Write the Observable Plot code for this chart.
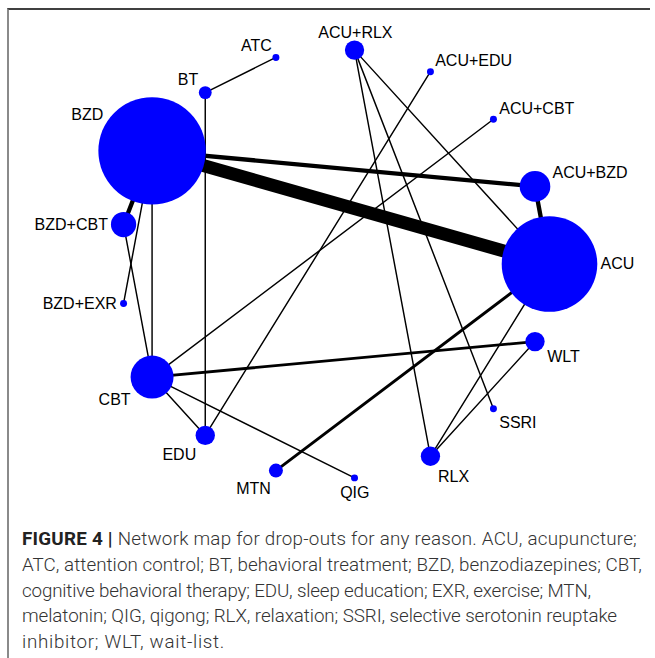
<!DOCTYPE html>
<html><head><meta charset="utf-8">
<script src="https://cdn.jsdelivr.net/npm/d3@7"></script>
<script src="https://cdn.jsdelivr.net/npm/@observablehq/plot@0.6"></script>
<style>
body{margin:0;background:#fff;}
#wrap{position:relative;width:655px;height:658px;overflow:hidden;background:#fff;}
#chart{position:absolute;left:0;top:0;}
#frame{position:absolute;left:7px;top:8px;width:643px;height:700px;border-top:2px solid #404040;border-left:2px solid #8a8a8a;box-sizing:border-box;pointer-events:none;}
#caption{position:absolute;left:22px;top:527px;font-family:Roboto,'Liberation Sans',sans-serif;font-weight:300;font-size:18.8px;line-height:25.8px;color:#333;white-space:nowrap;}
#caption b{font-weight:700;color:#222;}
#caption .ln{display:block;}
#caption .ln span{display:inline;}
</style></head>
<body>
<div id="wrap">
<div id="chart"></div>
<div id="frame"></div>
<div id="caption"></div>
</div>
<script>
// Treatments (alphabetical, as laid out counter-clockwise on the circle)
const treatments = ["ACU","ACU+BZD","ACU+CBT","ACU+EDU","ACU+RLX","ATC","BT","BZD","BZD+CBT","BZD+EXR","CBT","EDU","MTN","QIG","RLX","SSRI","WLT"];
// Relative node size (0-10)
const nodeSize = [8.9, 2.85, 0.65, 0.65, 1.8, 0.65, 1.2, 10, 2.35, 0.65, 4.0, 1.8, 1.3, 0.65, 1.8, 0.65, 1.8];
// Direct comparisons and number of studies
const edgeFrom = ["ACU","ACU","ACU","ACU","ACU","BZD","BZD","BZD","BZD","BZD+CBT","ATC","BT","ACU+CBT","CBT","CBT","CBT","ACU+EDU","ACU+RLX","ACU+RLX","RLX"];
const edgeTo   = ["BZD","ACU+BZD","ACU+RLX","MTN","RLX","ACU+BZD","BZD+CBT","BZD+EXR","CBT","CBT","BT","EDU","CBT","WLT","EDU","QIG","EDU","RLX","SSRI","WLT"];
const edgeStudies = [9,3,1,2,1,3,3,1,1,1,1,1,1,2,1,1,1,1,1,1];
// Caption
const captionLabel = "FIGURE 4 |";
const captionLines = [
  " Network map for drop-outs for any reason. ACU, acupuncture;",
  "ATC, attention control; BT, behavioral treatment; BZD, benzodiazepines; CBT,",
  "cognitive behavioral therapy; EDU, sleep education; EXR, exercise; MTN,",
  "melatonin; QIG, qigong; RLX, relaxation; SSRI, selective serotonin reuptake",
  "inhibitor; WLT, wait-list."
];
const captionLineWidths = [615, 620, 569, 595, 203];

const R = 214.8, CX = 334.2, CY = 263.5;
const n = treatments.length;
const rOpts = {type:"linear", domain:[0,10], range:[0,53.7]};
const rScale = Plot.scale({r: rOpts});
const nodes = treatments.map((t,i)=>{
  const a = 2*Math.PI*i/n;
  return {name:t, size:nodeSize[i], cos:Math.cos(a), sin:Math.sin(a)};
});
nodes.forEach(d=>{
  const rp = rScale.apply(d.size);
  d.anchor = d.cos > 0.1 ? "start" : d.cos < -0.1 ? "end" : "middle";
  const gx = d.anchor==="start" ? 3.2 : d.anchor==="end" ? -3.2 : 0;
  d.lx = d.cos + (d.cos*rp + gx)/R;
  const gy = d.sin > 0.2 ? 8 : d.sin < -0.2 ? -11.8 : null;
  d.ly = gy===null ? d.sin : d.sin + (d.sin*rp + gy)/R;
});
const byName = new Map(nodes.map(d=>[d.name,d]));
const edges = edgeFrom.map((f,i)=>({a:byName.get(f), b:byName.get(edgeTo[i]), k:edgeStudies[i]}));

const font = "'Liberation Sans', Arial, sans-serif";
const chart = Plot.plot({
  width:655, height:515, margin:0,
  style:{background:"transparent"},
  x:{domain:[-1,1], range:[CX-R, CX+R], axis:null},
  y:{domain:[-1,1], range:[CY+R, CY-R], axis:null},
  r: rOpts,
  marks:[
    Plot.link(edges,{x1:d=>d.a.cos, y1:d=>d.a.sin, x2:d=>d.b.cos, y2:d=>d.b.sin,
      stroke:"black", strokeWidth:d=>d.k*1.45, strokeLinecap:"round"}),
    Plot.dot(nodes,{x:"cos", y:"sin", r:"size", fill:"#0000ff", stroke:"none"}),
    ...["start","end","middle"].map(an=>Plot.text(nodes.filter(d=>d.anchor===an),{
      x:"lx", y:"ly", text:"name", textAnchor:an, lineAnchor:"middle",
      fontSize:16, fontFamily:font, fill:"black"}))
  ]
});
document.getElementById("chart").appendChild(chart);

// Caption, each line fitted to the width of the reference line
const cap = document.getElementById("caption");
captionLines.forEach((txt,i)=>{
  const ln = document.createElement("div");
  ln.className = "ln";
  const sp = document.createElement("span");
  if (i===0) { const b = document.createElement("b"); b.textContent = captionLabel; sp.appendChild(b); }
  sp.appendChild(document.createTextNode(txt));
  ln.appendChild(sp);
  cap.appendChild(ln);
  const w = sp.getBoundingClientRect().width;
  const chars = (i===0 ? captionLabel.length : 0) + txt.length;
  sp.style.letterSpacing = ((captionLineWidths[i]-w)/chars) + "px";
});
</script>
</body></html>
